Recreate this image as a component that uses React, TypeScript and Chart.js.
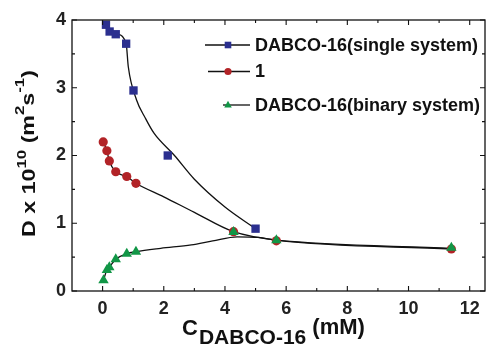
import React, { useEffect, useRef } from "react";
import { Chart, registerables } from "chart.js";
Chart.register(...registerables);

// Measured data (mM, D x 1e10 m^2/s)
const singleX = [0.11, 0.23, 0.43, 0.77, 1.01, 2.13, 5.0];
const singleY = [3.93, 3.83, 3.79, 3.65, 2.96, 2.0, 0.92];
const oneX = [0.02, 0.14, 0.22, 0.43, 0.79, 1.09, 4.28, 5.68, 11.4];
const oneY = [2.2, 2.07, 1.92, 1.76, 1.69, 1.59, 0.875, 0.74, 0.62];
const binaryX = [0.03, 0.14, 0.22, 0.43, 0.79, 1.09, 4.28, 5.68, 11.4];
const binaryY = [0.16, 0.31, 0.35, 0.47, 0.55, 0.58, 0.87, 0.75, 0.64];

// Guide curves
const singleFitX = [0.46, 0.77, 0.84, 1.11, 1.4, 1.68, 2.35, 3.0, 4.0, 5.0];
const singleFitY = [3.8, 3.65, 3.31, 2.82, 2.55, 2.33, 2.0, 1.65, 1.24, 0.92];
const oneFitX = [0.02, 0.14, 0.22, 0.43, 0.79, 1.09, 2.0, 3.0, 4.28, 5.68, 11.4];
const oneFitY = [2.2, 2.07, 1.92, 1.76, 1.69, 1.59, 1.39, 1.16, 0.875, 0.75, 0.62];
const binFitX = [0.03, 0.14, 0.22, 0.43, 0.79, 1.09, 1.9, 2.9, 3.6, 4.4, 5.1, 5.68, 11.4];
const binFitY = [0.16, 0.31, 0.35, 0.47, 0.55, 0.58, 0.63, 0.68, 0.74, 0.8, 0.79, 0.75, 0.63];

const xTicks = [0, 2, 4, 6, 8, 10, 12];
const xMinor = [1, 3, 5, 7, 9, 11];
const yTicks = [0, 1, 2, 3, 4];
const yMinor = [0.5, 1.5, 2.5, 3.5];

const seriesNames = ["DABCO-16(single system)", "1", "DABCO-16(binary system)"];
const BLUE = "#2b2f8f";
const RED = "#b22327";
const GREEN = "#119646";
const FONT = '"Liberation Sans", Arial, sans-serif';

const pts = (xs: number[], ys: number[]) => xs.map((x, i) => ({ x, y: ys[i] }));

const framePlugin = {
  id: "frameTicks",
  afterDraw(chart: any) {
    const { ctx, chartArea: a, scales } = chart;
    const xs = scales.x, ys = scales.y;
    ctx.save();
    ctx.strokeStyle = "#111";
    ctx.lineWidth = 1.3;
    ctx.strokeRect(a.left, a.top, a.right - a.left, a.bottom - a.top);
    ctx.lineWidth = 1.1;
    ctx.beginPath();
    const xt = (v: number, len: number) => {
      const p = xs.getPixelForValue(v);
      ctx.moveTo(p, a.bottom); ctx.lineTo(p, a.bottom - len);
      ctx.moveTo(p, a.top); ctx.lineTo(p, a.top + len);
    };
    const yt = (v: number, len: number) => {
      const p = ys.getPixelForValue(v);
      ctx.moveTo(a.left, p); ctx.lineTo(a.left + len, p);
      ctx.moveTo(a.right, p); ctx.lineTo(a.right - len, p);
    };
    xTicks.forEach((v) => xt(v, 5));
    xMinor.forEach((v) => xt(v, 3));
    yTicks.forEach((v) => yt(v, 5));
    yMinor.forEach((v) => yt(v, 3));
    ctx.stroke();

    // legend
    const rows = [
      { y: 45, x0: 205, color: BLUE, style: "square" },
      { y: 71.5, x0: 208, color: RED, style: "circle" },
      { y: 105, x0: 223, color: GREEN, style: "triangle" },
    ];
    rows.forEach((r, i) => {
      ctx.strokeStyle = "#111";
      ctx.lineWidth = 1.3;
      ctx.beginPath();
      ctx.moveTo(r.x0, r.y); ctx.lineTo(250, r.y);
      ctx.stroke();
      ctx.fillStyle = r.color;
      const mx = 228;
      ctx.beginPath();
      if (r.style === "square") ctx.rect(mx - 3.3, r.y - 3.3, 6.6, 6.6);
      else if (r.style === "circle") ctx.arc(mx, r.y, 3.6, 0, Math.PI * 2);
      else { ctx.moveTo(mx, r.y - 4.2); ctx.lineTo(mx + 3.8, r.y + 2.4); ctx.lineTo(mx - 3.8, r.y + 2.4); ctx.closePath(); }
      ctx.fill();
      ctx.fillStyle = "#111";
      ctx.font = `bold 18px ${FONT}`;
      ctx.textBaseline = "middle";
      ctx.textAlign = "left";
      ctx.fillText(seriesNames[i], 255, r.y + 1);
    });

    // y title
    const base = `bold 18px ${FONT}`;
    const sup = `bold 13px ${FONT}`;
    const segs = [
      { t: "D x 10", f: base, dy: 0 },
      { t: "10", f: sup, dy: -9 },
      { t: " (m", f: base, dy: -1 },
      { t: "2", f: sup, dy: -11 },
      { t: "s", f: base, dy: -1 },
      { t: "-1", f: sup, dy: -11 },
      { t: ")", f: base, dy: -1 },
    ];
    ctx.save();
    ctx.translate(35, 153.5);
    ctx.rotate(-Math.PI / 2);
    ctx.scale(1.29, 1);
    ctx.textBaseline = "alphabetic";
    ctx.textAlign = "left";
    let W = 0;
    segs.forEach((s) => { ctx.font = s.f; W += ctx.measureText(s.t).width; });
    let x = -W / 2;
    segs.forEach((s) => { ctx.font = s.f; ctx.fillText(s.t, x, s.dy); x += ctx.measureText(s.t).width; });
    ctx.restore();

    // x title
    ctx.textBaseline = "alphabetic";
    ctx.textAlign = "left";
    const xsegs = [
      { t: "C", f: `bold 22px ${FONT}`, y: 335 },
      { t: "DABCO-16", f: `bold 21px ${FONT}`, y: 343.5 },
      { t: " (mM)", f: `bold 22px ${FONT}`, y: 334 },
    ];
    let xx = 182;
    xsegs.forEach((s) => { ctx.font = s.f; ctx.fillText(s.t, xx, s.y); xx += ctx.measureText(s.t).width + (s.t === "C" ? 1 : 0); });
    ctx.restore();
  },
};

export default function App() {
  const ref = useRef<HTMLCanvasElement>(null);
  useEffect(() => {
    if (!ref.current) return;
    const fitDs = (xs: number[], ys: number[]) => ({
      data: pts(xs, ys),
      showLine: true,
      borderColor: "#111",
      borderWidth: 1.3,
      pointRadius: 0,
      fill: false,
      cubicInterpolationMode: "monotone" as const,
      order: 10,
    });
    const chart = new Chart(ref.current, {
      type: "scatter",
      data: {
        datasets: [
          fitDs(singleFitX, singleFitY),
          fitDs(oneFitX, oneFitY),
          fitDs(binFitX, binFitY),
          { label: seriesNames[0], data: pts(singleX, singleY), pointStyle: "rect", pointRadius: 5.9, backgroundColor: BLUE, borderColor: BLUE, borderWidth: 0, order: 3 },
          { label: seriesNames[1], data: pts(oneX, oneY), pointStyle: "circle", pointRadius: 4.6, backgroundColor: RED, borderColor: RED, borderWidth: 0, order: 2 },
          { label: seriesNames[2], data: pts(binaryX, binaryY), pointStyle: "triangle", pointRadius: 6, backgroundColor: GREEN, borderColor: GREEN, borderWidth: 0, order: 1 },
        ] as any,
      },
      options: {
        animation: false,
        responsive: false,
        devicePixelRatio: 1,
        layout: { padding: { top: 20, right: 2, left: 0, bottom: 0 } },
        plugins: { legend: { display: false }, tooltip: { enabled: false } },
        scales: {
          x: {
            type: "linear",
            min: -1,
            max: 12.5,
            grid: { display: false, drawTicks: false },
            border: { display: false },
            afterBuildTicks: (s: any) => { s.ticks = xTicks.map((v) => ({ value: v })); },
            afterFit: (s: any) => { s.height = 53; },
            ticks: { font: { family: FONT, size: 18, weight: "bold" }, color: "#222", padding: 7, maxRotation: 0, autoSkip: false },
          },
          y: {
            type: "linear",
            min: 0,
            max: 4,
            grid: { display: false, drawTicks: false },
            border: { display: false },
            afterBuildTicks: (s: any) => { s.ticks = yTicks.map((v) => ({ value: v })); },
            afterFit: (s: any) => { s.width = 72; },
            ticks: { font: { family: FONT, size: 18, weight: "bold" }, color: "#222", padding: 6 },
          },
        },
      } as any,
      plugins: [framePlugin],
    });
    return () => chart.destroy();
  }, []);
  return (
    <div style={{ position: "absolute", left: 0, top: 0, width: 491, height: 344, background: "#fff" }}>
      <canvas ref={ref} width={491} height={344} style={{ display: "block", width: 491, height: 344 }} />
    </div>
  );
}
